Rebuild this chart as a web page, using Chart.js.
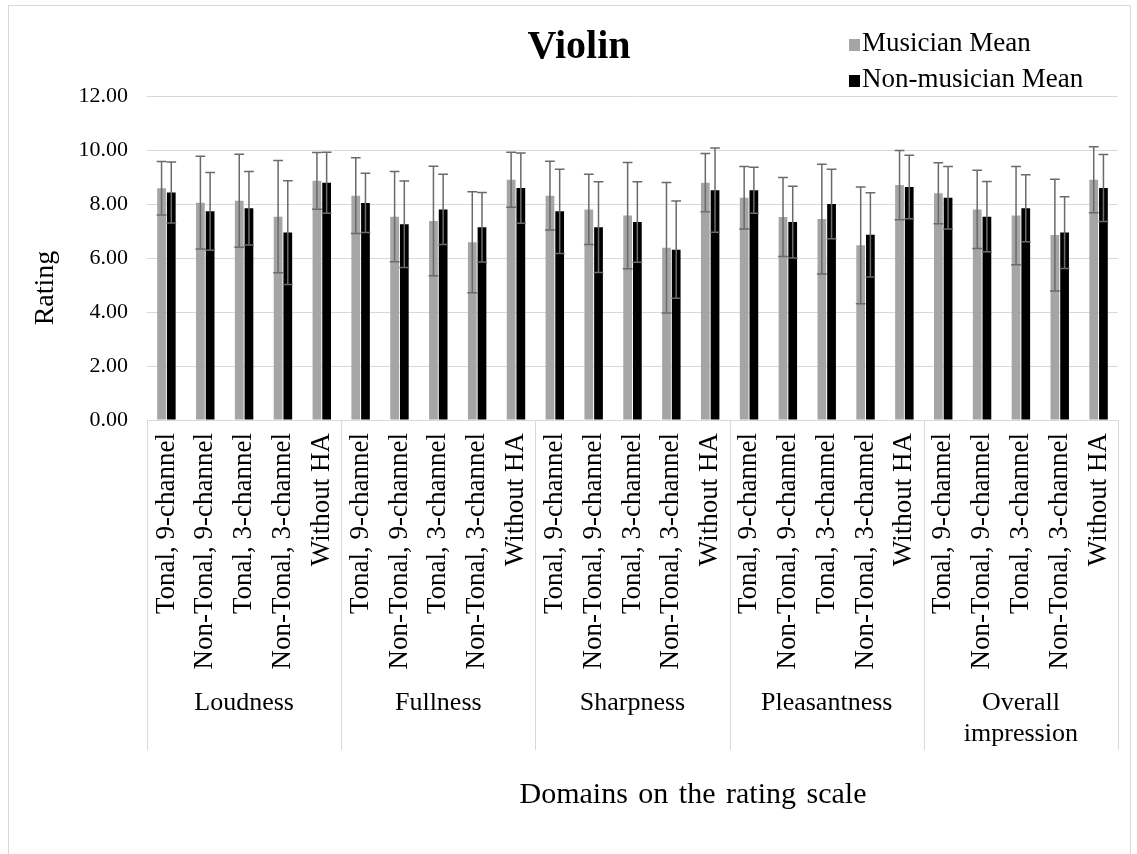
<!DOCTYPE html>
<html>
<head>
<meta charset="utf-8">
<title>Violin</title>
<script src="https://cdn.jsdelivr.net/npm/chart.js@4.4.1/dist/chart.umd.min.js"></script>
<style>
  html, body { margin: 0; padding: 0; background: #ffffff; }
  #wrap { width: 1137px; height: 854px; position: relative; }
</style>
</head>
<body>
<div id="wrap"><canvas id="c" width="1137" height="854"></canvas></div>
<script>
// Rating domains and hearing-aid conditions
const domains = ['Loudness', 'Fullness', 'Sharpness', 'Pleasantness', ['Overall', 'impression']];
const conditions = ['Tonal, 9-channel', 'Non-Tonal, 9-channel', 'Tonal, 3-channel', 'Non-Tonal, 3-channel', 'Without HA'];

// Means and standard deviations, five conditions per domain
const musicianMean = [
  8.58, 8.05, 8.12, 7.53, 8.86,
  8.31, 7.53, 7.37, 6.58, 8.90,
  8.31, 7.80, 7.57, 6.38, 8.79,
  8.23, 7.52, 7.44, 6.47, 8.70,
  8.40, 7.80, 7.57, 6.85, 8.90
];
const musicianSD = [
  0.99, 1.72, 1.72, 2.08, 1.05,
  1.40, 1.67, 2.03, 1.87, 1.02,
  1.27, 1.30, 1.97, 2.42, 1.08,
  1.16, 1.46, 2.03, 2.16, 1.28,
  1.13, 1.45, 1.82, 2.07, 1.22
];
const nonMusicianMean = [
  8.43, 7.73, 7.84, 6.94, 8.79,
  8.04, 7.25, 7.80, 7.14, 8.59,
  7.73, 7.14, 7.33, 6.31, 8.51,
  8.51, 7.33, 8.00, 6.86, 8.63,
  8.23, 7.53, 7.84, 6.94, 8.59
];
const nonMusicianSD = [
  1.13, 1.44, 1.36, 1.92, 1.13,
  1.10, 1.60, 1.30, 1.29, 1.30,
  1.56, 1.68, 1.49, 1.80, 1.56,
  0.85, 1.33, 1.29, 1.56, 1.18,
  1.16, 1.30, 1.24, 1.33, 1.24
];
const yTicks = [0, 2, 4, 6, 8, 10, 12];

const labels = [];
domains.forEach(() => conditions.forEach(c => labels.push(c)));

const SERIF = '"Liberation Serif", "Times New Roman", serif';

// Symmetric error bars drawn over each bar
const errorBars = {
  id: 'errorBars',
  afterDatasetsDraw(chart) {
    const ctx = chart.ctx;
    const y = chart.scales.y;
    chart.data.datasets.forEach((ds, di) => {
      const meta = chart.getDatasetMeta(di);
      meta.data.forEach((bar, i) => {
        const m = ds.data[i], sd = ds.sd[i];
        const top = y.getPixelForValue(m + sd);
        const bot = y.getPixelForValue(m - sd);
        const half = bar.width / 2 + 0.5;
        ctx.save();
        ctx.strokeStyle = '#6a6a6a';
        ctx.lineWidth = 1.5;
        ctx.beginPath();
        ctx.moveTo(bar.x, top); ctx.lineTo(bar.x, bot);
        ctx.moveTo(bar.x - half, top); ctx.lineTo(bar.x + half, top);
        ctx.moveTo(bar.x - half, bot); ctx.lineTo(bar.x + half, bot);
        ctx.stroke();
        ctx.restore();
      });
    });
  }
};

// Frame, titles, legend, domain group labels and separators
const decorations = {
  id: 'decorations',
  afterDraw(chart) {
    const ctx = chart.ctx;
    const area = chart.chartArea;
    const x = chart.scales.x;
    ctx.save();

    // outer frame
    ctx.strokeStyle = '#d9d9d9';
    ctx.lineWidth = 1;
    ctx.strokeRect(8.5, 5.5, 1122, 870);

    // domain separators and names
    const n = conditions.length;
    const step = (x.getPixelForValue(1) - x.getPixelForValue(0));
    ctx.strokeStyle = '#d9d9d9';
    ctx.beginPath();
    for (let g = 0; g <= domains.length; g++) {
      const px = Math.round(x.getPixelForValue(g * n) - step / 2) + 0.5;
      ctx.moveTo(px, area.bottom);
      ctx.lineTo(px, 750);
    }
    ctx.stroke();

    ctx.fillStyle = '#000000';
    ctx.font = '26px ' + SERIF;
    ctx.textAlign = 'center';
    ctx.textBaseline = 'middle';
    domains.forEach((d, g) => {
      const cx = (x.getPixelForValue(g * n) + x.getPixelForValue(g * n + n - 1)) / 2;
      const lines = Array.isArray(d) ? d : [d];
      lines.forEach((ln, k) => ctx.fillText(ln, cx, 703 + k * 31));
    });

    // chart title
    ctx.font = 'bold 40px ' + SERIF;
    ctx.fillText('Violin', 579, 48);

    // axis titles
    ctx.font = '30px ' + SERIF;
    if ('wordSpacing' in ctx) ctx.wordSpacing = '3px';
    ctx.fillText('Domains on the rating scale', 693, 795);
    if ('wordSpacing' in ctx) ctx.wordSpacing = '0px';
    ctx.save();
    ctx.translate(46, 288);
    ctx.rotate(-Math.PI / 2);
    ctx.font = '28px ' + SERIF;
    ctx.fillText('Rating', 0, 0);
    ctx.restore();

    // legend
    ctx.textAlign = 'left';
    ctx.font = '27px ' + SERIF;
    chart.data.datasets.forEach((ds, i) => {
      const ly = 44 + i * 36;
      ctx.fillStyle = ds.backgroundColor;
      ctx.fillRect(849, ly - 5, 11, 12);
      ctx.fillStyle = '#000000';
      ctx.fillText(ds.label, 862, ly);
    });

    ctx.restore();
  }
};

new Chart(document.getElementById('c'), {
  type: 'bar',
  data: {
    labels: labels,
    datasets: [
      { label: 'Musician Mean', data: musicianMean, sd: musicianSD, backgroundColor: '#a5a5a5' },
      { label: 'Non-musician Mean', data: nonMusicianMean, sd: nonMusicianSD, backgroundColor: '#000000' }
    ]
  },
  options: {
    responsive: false,
    devicePixelRatio: 1,
    animation: false,
    categoryPercentage: 0.5,
    barPercentage: 0.9,
    layout: { padding: { left: 0, right: 19, top: 96, bottom: 0 } },
    plugins: { legend: { display: false }, title: { display: false }, tooltip: { enabled: false } },
    scales: {
      x: {
        afterFit(s) {
          s.height = 854 - 96 - 324;
          s.paddingLeft = 0;
          s.paddingRight = 0;
        },
        grid: { display: false, drawTicks: false },
        border: { display: true, color: '#d9d9d9', width: 1 },
        ticks: {
          autoSkip: false, minRotation: 90, maxRotation: 90, padding: 13,
          color: '#000000', font: { family: SERIF, size: 27 }
        }
      },
      y: {
        min: 0, max: 12,
        afterFit(s) { s.width = 147; s.paddingTop = 0; s.paddingBottom = 0; },
        afterBuildTicks(s) { s.ticks = yTicks.map(v => ({ value: v })); },
        grid: { color: '#d9d9d9', lineWidth: 1, drawTicks: false },
        border: { display: false },
        ticks: {
          padding: 19, color: '#000000',
          font: { family: SERIF, size: 22 },
          callback: v => Number(v).toFixed(2)
        }
      }
    }
  },
  plugins: [errorBars, decorations]
});
</script>
</body>
</html>
